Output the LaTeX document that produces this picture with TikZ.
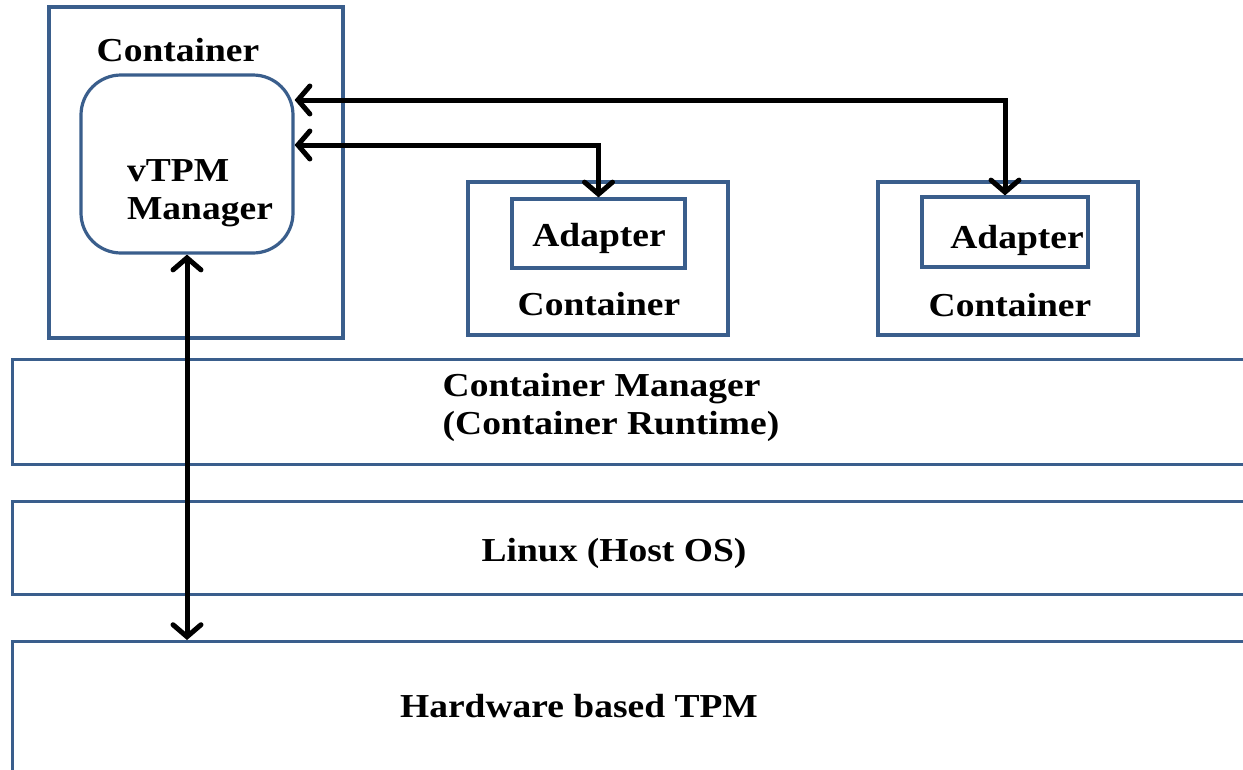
\documentclass[tikz,border=0pt]{standalone}
\usepackage{fontspec}
\setmainfont[FakeStretch=1.12]{Liberation Serif}
\usetikzlibrary{arrows.meta,positioning}
\definecolor{boxblue}{RGB}{58,94,140}
\tikzset{
  box/.style={draw=boxblue, line width=3.2pt, rectangle, inner sep=0pt},
  rbox/.style={box, rounded corners=40pt},
  lbl/.style={inner sep=0pt, font=\fontsize{33.5}{38}\selectfont\bfseries, align=left},
  arr/.style={{Straight Barb[length=12pt,width=28pt,line cap=round]}-{Straight Barb[length=12pt,width=28pt,line cap=round]}, draw=black, line width=5pt, line join=miter}
}
\begin{document}
\begin{tikzpicture}[x=1pt,y=-1pt]
\useasboundingbox (0,0) rectangle (1243,769);
\fill[white] (0,0) rectangle (1243,769);
% layers
\node[box, anchor=north west, minimum width=1270pt, minimum height=105pt] (cm) at (11,358) {};
\node[box, anchor=north west, minimum width=1270pt, minimum height=93pt] (linux) at (11,500) {};
\node[box, anchor=north west, minimum width=1270pt, minimum height=160pt] (hw) at (11,640) {};
\node[lbl] at (611,407) {Container Manager\\(Container Runtime)};
\node[lbl] at (614,553) {Linux (Host OS)};
\node[lbl] at (579,706) {Hardware based TPM};
% container 1
\node[box, minimum width=294pt, minimum height=331pt] (c1) at (196,172.5) {};
\node[lbl] at (178,50) {Container};
\node[rbox, minimum width=212pt, minimum height=178pt] (vtpm) at (187,164) {};
\node[lbl] at (200,193) {vTPM\\Manager};
% container 2
\node[box, minimum width=260pt, minimum height=153pt] (c2) at (598,258.5) {};
\node[box, minimum width=173pt, minimum height=69pt] (ad2) at (598.5,233.5) {};
\node[lbl] at (599,238) {Adapter};
\node[lbl] at (599,304) {Container};
% container 3
\node[box, minimum width=260pt, minimum height=153pt] (c3) at (1008,258.5) {};
\node[box, minimum width=166pt, minimum height=70pt] (ad3) at (1005,232) {};
\node[lbl] at (1017,240) {Adapter};
\node[lbl] at (1010,305) {Container};
% connectors
\coordinate (t1) at (vtpm.east |- 0,100);
\coordinate (t2) at (vtpm.east |- 0,145);
\draw[arr] (t1) -| (ad3.north);
\draw[arr] (t2) -| (ad2.north);
\draw[arr] (vtpm.south) -- (vtpm.south |- hw.north);
\end{tikzpicture}
\end{document}
